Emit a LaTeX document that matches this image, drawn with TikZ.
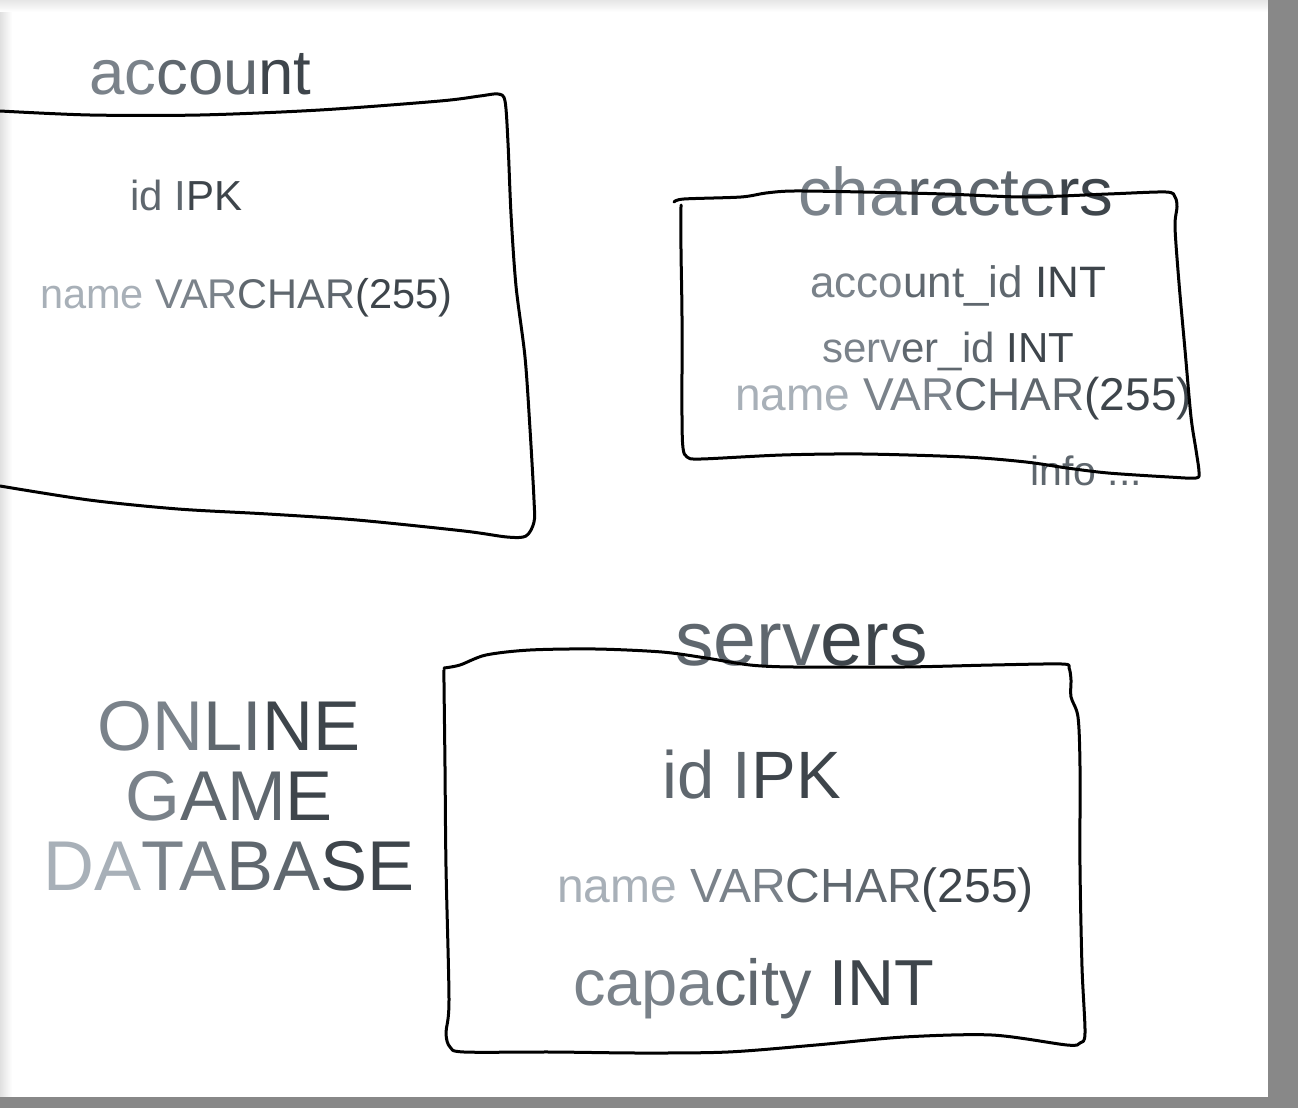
\documentclass[tikz,border=0pt]{standalone}
\usepackage{fontspec}
\setmainfont{Liberation Sans}
\usepackage{tikz}
\definecolor{txt-1}{RGB}{168,176,184}
\definecolor{txt-2}{RGB}{122,130,138}
\definecolor{txt-3}{RGB}{95,103,110}
\definecolor{txt-4}{RGB}{62,69,75}
\definecolor{frame-color}{RGB}{136,136,136}
\newcommand{\gtxt}[4]{\textcolor{txt-1}{#1}\textcolor{txt-2}{#2}\textcolor{txt-3}{#3}\textcolor{txt-4}{#4}}
\newcommand{\txtsize}[1]{\fontsize{#1}{#1}\selectfont}

\begin{document}
\begin{tikzpicture}[x=1pt,y=-1pt,
    sketch/.style={line width=3pt, line join=round, line cap=round},
    field/.style={anchor=base west, inner sep=0pt},
    title/.style={anchor=base, inner sep=0pt, font=\txtsize{70.5}}]
    \useasboundingbox (0,0) rectangle (1298,1108);
    \fill[white] (0,0) rectangle (1298,1108);
    \shade[left color=black!12, right color=white] (0,0) rectangle (12,1097);
    \shade[top color=black!10, bottom color=white] (0,0) rectangle (1268,12);
    \fill[frame-color] (1268,0) rectangle (1298,1108);
    \fill[frame-color] (0,1097) rectangle (1298,1108);

    % account
    \node[field, font=\txtsize{63.5}] (account-title) at (89,95) {\gtxt{}{ac}{cou}{nt}};
    \node[field, font=\txtsize{42}] (account-id) at (130,210) {\gtxt{}{}{id I}{PK}};
    \node[field, font=\txtsize{41.5}] (account-name) at (40,308) {\gtxt{name }{VAR}{CHAR}{(255)}};

    % characters
    \node[field, font=\txtsize{67.5}] (characters-title) at (798,215) {\gtxt{}{cha}{racte}{rs}};
    \node[field, font=\txtsize{44}] (characters-account) at (810,297) {\gtxt{}{acco}{unt\_id }{INT}};
    \node[field, font=\txtsize{42}] (characters-server) at (822,362) {\gtxt{}{serv}{er\_id }{INT}};
    \node[field, font=\txtsize{46}] (characters-name) at (735,410) {\gtxt{name }{VAR}{CHAR}{(255)}};
    \node[field, font=\txtsize{41}] (characters-info) at (1030,485) {\gtxt{}{}{info ...}{}};

    % servers
    \node[field, font=\txtsize{77}] (servers-title) at (675,665) {\gtxt{}{}{serv}{ers}};
    \node[field, font=\txtsize{67}] (servers-id) at (662,798) {\gtxt{}{}{id I}{PK}};
    \node[field, font=\txtsize{48}] (servers-name) at (557,902) {\gtxt{name }{VAR}{CHAR}{(255)}};
    \node[field, font=\txtsize{65}] (servers-capacity) at (573,1005) {\gtxt{}{capa}{city }{INT}};

    \node[title] (title-1) at (229,750) {\gtxt{}{ON}{LI}{NE}};
    \node[title] (title-2) at (229,820) {\gtxt{}{G}{AM}{E}};
    \node[title] (title-3) at (229,890) {\gtxt{DA}{TA}{BA}{SE}};

    \draw[sketch] plot[smooth, tension=0.5] coordinates {
        (0,111) (90,115) (200,115) (320,110) (440,101) (480,96) (498,94) (505,101)
        (508,143) (511,214) (516,286) (525,357) (530,429) (534,500) (534,522)
        (526,536) (507,537) (464,531) (357,520) (268,514) (178,509) (89,500) (0,486)};

    \draw[sketch] plot[smooth, tension=0.5] coordinates {
        (674,202) (684,199) (741,197) (766,193) (794,191) (863,192) (945,194)
        (1026,197) (1108,194) (1166,192) (1175,197) (1177,207)
        (1175,227) (1179,283) (1185,350) (1191,417) (1196,450) (1199,472)
        (1196,478) (1169,477) (1108,473) (1067,468) (1026,462) (965,457)
        (863,454) (782,455) (701,459) (687,457) (683,448)
        (682,417) (682,317) (681,250) (681,205)};

    \draw[sketch] plot[smooth, tension=0.5] coordinates {
        (444,668) (460,665) (486,655) (530,650) (596,649) (662,652) (706,658)
        (750,665) (794,667) (904,667) (992,665) (1062,664) (1069,668) (1071,680)
        (1071,697) (1078,717) (1080,767) (1080,867) (1082,967) (1085,1033)
        (1080,1043) (1067,1045) (992,1035) (904,1037) (816,1045) (728,1052)
        (640,1053) (552,1052) (464,1052) (450,1047) (446,1033)
        (449,1000) (446,867) (445,767) (444,683) (444,670)};
\end{tikzpicture}
\end{document}
